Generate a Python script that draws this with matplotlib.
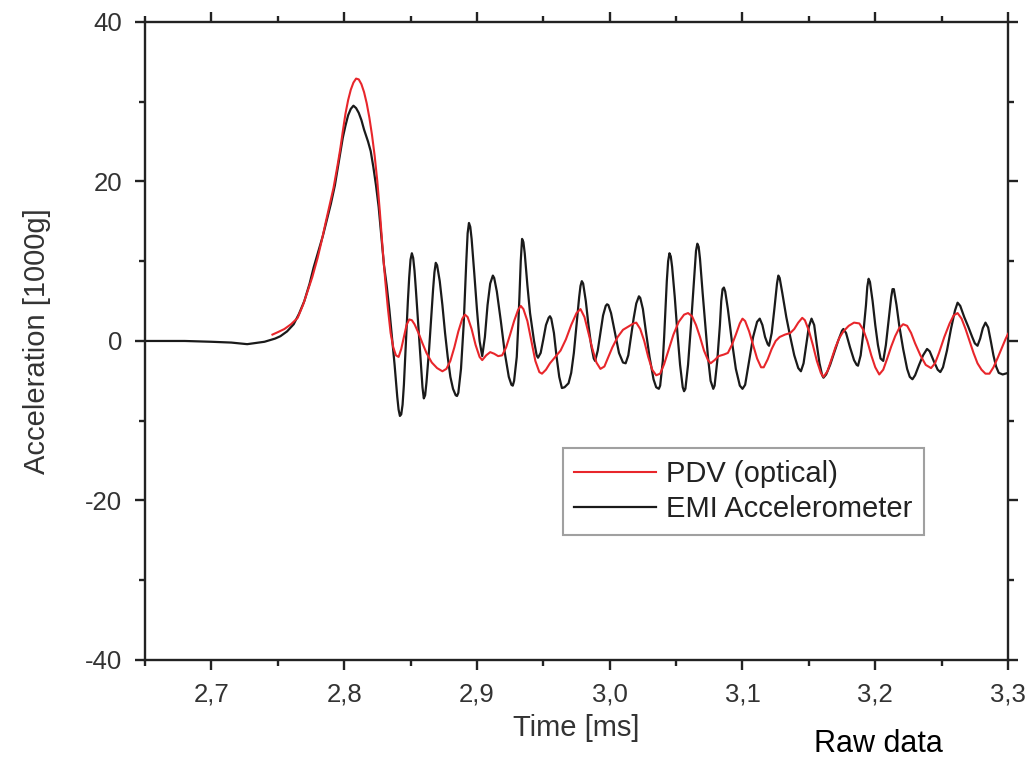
import matplotlib
matplotlib.use("Agg")
import matplotlib.pyplot as plt
from matplotlib.ticker import MultipleLocator, FixedLocator, FixedFormatter

plt.rcParams['font.family'] = ['Liberation Sans', 'DejaVu Sans']

# ---- data (time in ms, acceleration in 1000 g) ----
emi_t = [2.650, 2.680, 2.700, 2.715, 2.727, 2.740, 2.748, 2.752, 2.757, 2.762,
         2.766, 2.770, 2.774, 2.777, 2.781, 2.784, 2.787, 2.790, 2.793, 2.795,
         2.797, 2.799, 2.801, 2.803, 2.805, 2.807, 2.809, 2.811, 2.813, 2.815,
         2.818, 2.820, 2.822, 2.824, 2.826, 2.828, 2.830, 2.832, 2.834, 2.836,
         2.838, 2.840, 2.841, 2.842, 2.843, 2.844, 2.845, 2.846, 2.847, 2.848,
         2.849, 2.850, 2.851, 2.852, 2.853, 2.854, 2.856, 2.858, 2.859, 2.860,
         2.861, 2.862, 2.864, 2.866, 2.867, 2.868, 2.869, 2.870, 2.872, 2.874,
         2.876, 2.878, 2.880, 2.882, 2.884, 2.885, 2.886, 2.888, 2.890, 2.891,
         2.892, 2.893, 2.894, 2.895, 2.896, 2.898, 2.900, 2.902, 2.904, 2.906,
         2.908, 2.910, 2.912, 2.913, 2.915, 2.918, 2.921, 2.924, 2.926, 2.927,
         2.928, 2.930, 2.931, 2.932, 2.933, 2.934, 2.935, 2.936, 2.938, 2.940,
         2.943, 2.945, 2.946, 2.948, 2.950, 2.952, 2.954, 2.955, 2.956, 2.958,
         2.960, 2.962, 2.964, 2.966, 2.969, 2.971, 2.973, 2.975, 2.977, 2.978,
         2.979, 2.980, 2.982, 2.984, 2.986, 2.988, 2.989, 2.991, 2.993, 2.995,
         2.997, 2.998, 2.999, 3.001, 3.004, 3.007, 3.010, 3.012, 3.014, 3.016,
         3.018, 3.020, 3.022, 3.023, 3.025, 3.027, 3.030, 3.033, 3.035, 3.037,
         3.038, 3.040, 3.041, 3.042, 3.043, 3.044, 3.045, 3.046, 3.047, 3.049,
         3.051, 3.053, 3.055, 3.056, 3.057, 3.059, 3.061, 3.063, 3.064, 3.065,
         3.066, 3.067, 3.068, 3.070, 3.072, 3.074, 3.076, 3.078, 3.079, 3.081,
         3.083, 3.084, 3.085, 3.086, 3.087, 3.089, 3.092, 3.095, 3.098, 3.100,
         3.102, 3.105, 3.108, 3.111, 3.113, 3.115, 3.117, 3.119, 3.120, 3.122,
         3.124, 3.126, 3.127, 3.128, 3.130, 3.133, 3.136, 3.139, 3.142, 3.144,
         3.146, 3.148, 3.150, 3.152, 3.154, 3.156, 3.158, 3.160, 3.161, 3.163,
         3.166, 3.169, 3.172, 3.175, 3.176, 3.178, 3.181, 3.184, 3.186, 3.187,
         3.189, 3.191, 3.193, 3.194, 3.195, 3.196, 3.198, 3.200, 3.202, 3.204,
         3.206, 3.208, 3.210, 3.212, 3.213, 3.214, 3.216, 3.218, 3.221, 3.224,
         3.226, 3.228, 3.230, 3.233, 3.236, 3.239, 3.241, 3.244, 3.247, 3.249,
         3.251, 3.254, 3.257, 3.260, 3.262, 3.264, 3.267, 3.270, 3.273, 3.275,
         3.277, 3.279, 3.281, 3.283, 3.285, 3.287, 3.289, 3.291, 3.293, 3.296,
         3.300]
emi_a = [0.0, 0.0, -0.1, -0.2, -0.4, -0.1, 0.3, 0.6, 1.2, 2.1,
         3.4, 5.0, 7.2, 9.2, 11.5, 13.2, 15.2, 17.2, 19.5, 21.5,
         23.5, 25.5, 27.0, 28.3, 29.1, 29.5, 29.2, 28.6, 27.7, 26.5,
         25.0, 23.8, 21.8, 19.5, 16.8, 13.2, 9.5, 7.0, 4.0, 0.5,
         -3.0, -7.0, -8.6, -9.4, -9.2, -8.0, -5.5, -2.0, 1.5, 5.0,
         8.0, 10.2, 11.0, 10.4, 8.8, 6.5, 1.5, -3.5, -5.8, -7.2,
         -6.8, -5.2, -1.0, 4.0, 6.5, 8.6, 9.8, 9.5, 7.5, 4.5,
         1.0, -2.0, -4.5, -6.0, -6.8, -6.9, -6.5, -3.5, 2.0, 6.0,
         10.0, 13.5, 14.8, 14.3, 12.8, 8.5, 4.0, 0.0, -1.9, 0.5,
         4.5, 7.2, 8.2, 7.9, 6.2, 2.5, -1.5, -4.5, -5.5, -5.6,
         -5.0, -2.0, 1.5, 5.5, 10.0, 12.8, 12.4, 11.0, 7.0, 3.5,
         0.0, -1.8, -2.1, -1.5, 0.2, 2.0, 2.9, 3.1, 2.8, 1.0,
         -2.0, -4.5, -5.9, -5.8, -5.3, -4.0, -1.5, 2.0, 5.5, 6.9,
         7.5, 7.2, 5.0, 2.0, -0.5, -2.2, -2.5, -1.2, 1.0, 3.2,
         4.4, 4.6, 4.5, 3.5, 1.0, -1.5, -2.7, -2.8, -1.8, 0.5,
         2.8, 4.7, 5.6, 5.4, 4.0, 1.5, -2.0, -4.8, -5.8, -6.0,
         -5.6, -2.5, 0.5, 4.0, 7.5, 10.0, 11.0, 10.6, 9.3, 5.5,
         1.0, -3.0, -5.8, -6.3, -6.0, -3.0, 1.5, 6.5, 9.0, 11.3,
         12.2, 11.8, 10.3, 6.0, 2.0, -2.0, -5.0, -6.0, -5.6, -2.5,
         2.0, 5.0, 6.5, 6.7, 6.2, 4.0, 0.0, -3.5, -5.6, -6.0,
         -5.5, -2.5, 0.5, 2.4, 2.8, 2.0, 0.5, -0.4, -0.6, 1.0,
         4.0, 7.2, 8.2, 7.9, 6.0, 3.0, 0.5, -1.8, -3.4, -3.8,
         -2.8, -0.5, 1.8, 2.8, 2.0, -0.5, -2.8, -4.3, -4.6, -4.2,
         -3.0, -1.5, 0.0, 1.3, 1.5, 1.0, -0.8, -2.4, -3.0, -3.1,
         -1.8, 1.0, 4.5, 6.8, 7.8, 7.4, 5.0, 2.0, -0.5, -2.2,
         -2.5, -0.5, 2.5, 5.5, 6.5, 6.5, 4.5, 2.0, -1.0, -3.5,
         -4.5, -4.8, -4.3, -3.0, -1.8, -1.0, -1.3, -2.5, -3.6, -3.9,
         -3.3, -1.2, 1.5, 3.8, 4.8, 4.4, 3.0, 1.8, 0.5, -0.3,
         -0.6, 0.3, 1.6, 2.3, 1.7, 0.0, -1.8, -3.2, -4.0, -4.2,
         -4.0]

pdv_t = [2.746, 2.750, 2.755, 2.760, 2.765, 2.769, 2.772, 2.776, 2.780, 2.783,
         2.786, 2.789, 2.792, 2.795, 2.797, 2.799, 2.801, 2.803, 2.805, 2.807,
         2.809, 2.811, 2.813, 2.815, 2.817, 2.819, 2.821, 2.823, 2.825, 2.827,
         2.829, 2.831, 2.833, 2.835, 2.837, 2.839, 2.841, 2.843, 2.845, 2.847,
         2.849, 2.851, 2.853, 2.856, 2.859, 2.862, 2.866, 2.870, 2.874, 2.877,
         2.880, 2.883, 2.886, 2.889, 2.891, 2.893, 2.896, 2.899, 2.902, 2.904,
         2.907, 2.910, 2.913, 2.916, 2.919, 2.922, 2.925, 2.928, 2.931, 2.933,
         2.935, 2.938, 2.941, 2.944, 2.947, 2.949, 2.952, 2.955, 2.959, 2.963,
         2.967, 2.971, 2.975, 2.978, 2.981, 2.984, 2.987, 2.990, 2.993, 2.996,
         2.999, 3.002, 3.006, 3.010, 3.014, 3.018, 3.020, 3.023, 3.026, 3.029,
         3.032, 3.035, 3.038, 3.041, 3.044, 3.048, 3.052, 3.056, 3.059, 3.062,
         3.065, 3.068, 3.071, 3.074, 3.076, 3.079, 3.082, 3.086, 3.089, 3.092,
         3.095, 3.098, 3.100, 3.102, 3.105, 3.108, 3.111, 3.114, 3.116, 3.119,
         3.122, 3.125, 3.128, 3.132, 3.136, 3.139, 3.142, 3.145, 3.147, 3.150,
         3.153, 3.156, 3.159, 3.161, 3.164, 3.167, 3.170, 3.173, 3.176, 3.180,
         3.184, 3.188, 3.191, 3.194, 3.197, 3.200, 3.203, 3.206, 3.209, 3.212,
         3.215, 3.218, 3.221, 3.224, 3.227, 3.230, 3.234, 3.238, 3.242, 3.245,
         3.248, 3.252, 3.256, 3.259, 3.262, 3.265, 3.268, 3.271, 3.274, 3.277,
         3.280, 3.283, 3.286, 3.289, 3.292, 3.295, 3.298, 3.300]
pdv_a = [0.8, 1.1, 1.5, 2.1, 2.9, 4.5, 6.0, 8.0, 10.4, 12.5,
         14.8, 17.0, 19.2, 22.0, 24.0, 26.3, 28.5, 30.2, 31.5, 32.4,
         32.9, 32.8, 32.2, 31.2, 29.8, 28.0, 25.8, 23.2, 20.0, 16.0,
         11.5, 7.5, 4.0, 1.0, -0.8, -1.8, -2.0, -1.0, 0.5, 2.0,
         2.7, 2.6, 2.1, 1.0, -0.3, -1.5, -2.7, -3.4, -3.8, -3.5,
         -2.5, -0.8, 1.2, 2.8, 3.3, 3.0, 1.5, -0.5, -2.0, -2.4,
         -1.8, -1.4, -1.6, -1.9, -1.8, -0.8, 0.8, 2.5, 3.9, 4.4,
         4.0, 2.5, 0.0, -2.5, -3.9, -4.1, -3.6, -2.8, -2.0, -1.2,
         0.2, 2.0, 3.5, 4.0, 3.0, 1.0, -1.0, -2.7, -3.5, -3.2,
         -2.0, -0.8, 0.5, 1.4, 1.8, 2.2, 2.3, 1.5, 0.0, -2.0,
         -3.6, -4.3, -4.1, -2.9, -1.3, 0.8, 2.4, 3.3, 3.5, 3.1,
         2.0, 0.5, -1.2, -2.4, -2.8, -2.4, -1.9, -1.7, -1.5, -0.5,
         0.8, 2.2, 2.8, 2.5, 1.2, -0.5, -2.2, -3.3, -3.3, -2.3,
         -1.0, 0.0, 0.5, 0.8, 1.0, 1.5, 2.3, 2.9, 2.6, 1.3,
         -0.5, -2.5, -4.0, -4.5, -3.8, -2.3, -0.8, 0.4, 1.2, 1.9,
         2.3, 2.2, 1.4, 0.0, -1.8, -3.3, -4.2, -3.6, -2.2, -0.7,
         0.6, 1.6, 2.1, 1.9, 1.0, -0.3, -1.8, -3.0, -3.4, -2.8,
         -1.5, 0.5, 2.2, 3.2, 3.5, 2.8, 1.5, 0.0, -1.5, -2.8,
         -3.6, -4.1, -4.1, -3.3, -2.2, -1.0, 0.2, 0.9]

x_ticks = [2.7, 2.8, 2.9, 3.0, 3.1, 3.2, 3.3]
x_tick_labels = ["2,7", "2,8", "2,9", "3,0", "3,1", "3,2", "3,3"]
y_ticks = [-40, -20, 0, 20, 40]
y_tick_labels = ["-40", "-20", "0", "20", "40"]

# ---- figure ----
fig = plt.figure(figsize=(10.26, 7.6), dpi=100)
ax = fig.add_axes([0.1413, 0.1316, 0.8412, 0.8395])

ax.plot(emi_t, emi_a, color='#1a1a1a', lw=1.6, label='EMI Accelerometer', zorder=2)
ax.plot(pdv_t, pdv_a, color='#e8262b', lw=1.5, label='PDV (optical)', zorder=3)

ax.set_xlim(2.65, 3.3)
ax.set_ylim(-40, 40)

ax.xaxis.set_major_locator(FixedLocator(x_ticks))
ax.xaxis.set_major_formatter(FixedFormatter(x_tick_labels))
ax.xaxis.set_minor_locator(MultipleLocator(0.05))
ax.yaxis.set_major_locator(FixedLocator(y_ticks))
ax.yaxis.set_major_formatter(FixedFormatter(y_tick_labels))
ax.yaxis.set_minor_locator(MultipleLocator(10))

for s in ax.spines.values():
    s.set_linewidth(1.7)
    s.set_color('#222222')

ax.tick_params(which='both', direction='out', top=True, right=True,
               color='#222222', width=1.7)
ax.tick_params(which='major', length=7, labelsize=18.5, labelcolor='#333333', pad=9.5)
ax.tick_params(which='minor', length=4)

ax.set_xlabel('Time [ms]', fontsize=21, color='#333333', labelpad=5)
ax.set_ylabel('Acceleration [1000g]', fontsize=21, color='#333333', labelpad=24)

h, l = ax.get_legend_handles_labels()
leg = ax.legend([h[1], h[0]], [l[1], l[0]], loc='upper left',
                bbox_to_anchor=(0.484, 0.332), borderaxespad=0,
                fontsize=21, frameon=True, fancybox=False,
                handlelength=2.8, handletextpad=0.35, labelspacing=0.25,
                borderpad=0.4)
leg.get_frame().set_edgecolor('#888888')
leg.get_frame().set_linewidth(1.5)
for t in leg.get_texts():
    t.set_color('#222222')

fig.text(0.856, 0.021, 'Raw data', fontsize=22, color='black',
         ha='center', va='center')

fig.savefig('out.png', dpi=100)
